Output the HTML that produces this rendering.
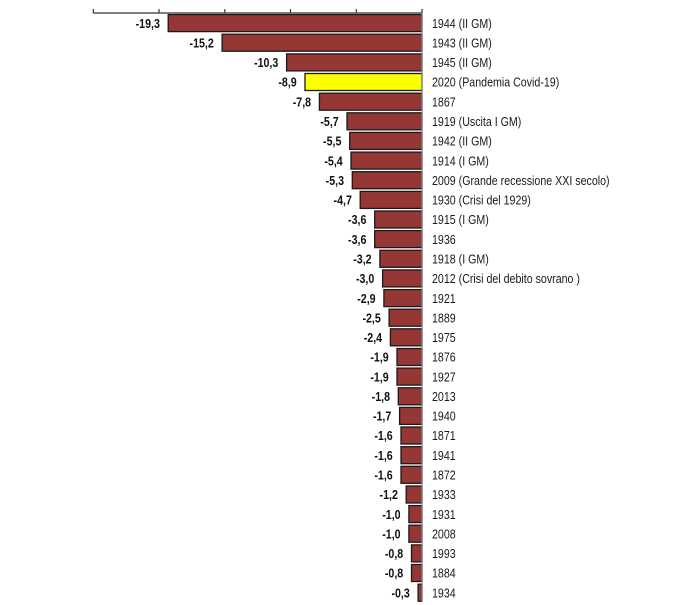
<!DOCTYPE html>
<html><head><meta charset="utf-8"><style>
html,body{margin:0;padding:0;background:#fff;}
svg{display:block;}
.v{font-family:"Liberation Sans",Arial,sans-serif;font-size:13px;font-weight:bold;fill:#111;}
.c{font-family:"Liberation Sans",Arial,sans-serif;font-size:13px;fill:#1a1a1a;}
.b{fill:#953735;stroke:#1a1a1a;stroke-width:1.3;}
.y{fill:#ffff00;stroke:#1a1a1a;stroke-width:1.3;}
</style></head><body>
<svg width="700" height="605" viewBox="0 0 700 605" xmlns="http://www.w3.org/2000/svg">
<line x1="93.3" y1="13" x2="422" y2="13" stroke="#333" stroke-width="1.3"/>
<g stroke="#333" stroke-width="1.2">
<line x1="93.3" y1="9" x2="93.3" y2="13"/>
<line x1="159" y1="9" x2="159" y2="13"/>
<line x1="224.8" y1="9" x2="224.8" y2="13"/>
<line x1="290.5" y1="9" x2="290.5" y2="13"/>
<line x1="356.3" y1="9" x2="356.3" y2="13"/>
<line x1="422" y1="9" x2="422" y2="13"/>
</g>
<rect class="b" x="168.2" y="14.6" width="253.8" height="17"/>
<rect class="b" x="222.1" y="34.2" width="199.9" height="17"/>
<rect class="b" x="286.6" y="53.9" width="135.4" height="17"/>
<rect class="y" x="305.0" y="73.5" width="117.0" height="17"/>
<rect class="b" x="319.4" y="93.2" width="102.6" height="17"/>
<rect class="b" x="347.0" y="112.8" width="75.0" height="17"/>
<rect class="b" x="349.7" y="132.4" width="72.3" height="17"/>
<rect class="b" x="351.0" y="152.1" width="71.0" height="17"/>
<rect class="b" x="352.3" y="171.7" width="69.7" height="17"/>
<rect class="b" x="360.2" y="191.4" width="61.8" height="17"/>
<rect class="b" x="374.7" y="211.0" width="47.3" height="17"/>
<rect class="b" x="374.7" y="230.6" width="47.3" height="17"/>
<rect class="b" x="379.9" y="250.3" width="42.1" height="17"/>
<rect class="b" x="382.6" y="269.9" width="39.4" height="17"/>
<rect class="b" x="383.9" y="289.6" width="38.1" height="17"/>
<rect class="b" x="389.1" y="309.2" width="32.9" height="17"/>
<rect class="b" x="390.4" y="328.8" width="31.6" height="17"/>
<rect class="b" x="397.0" y="348.5" width="25.0" height="17"/>
<rect class="b" x="397.0" y="368.1" width="25.0" height="17"/>
<rect class="b" x="398.3" y="387.8" width="23.7" height="17"/>
<rect class="b" x="399.6" y="407.4" width="22.4" height="17"/>
<rect class="b" x="401.0" y="427.0" width="21.0" height="17"/>
<rect class="b" x="401.0" y="446.7" width="21.0" height="17"/>
<rect class="b" x="401.0" y="466.3" width="21.0" height="17"/>
<rect class="b" x="406.2" y="486.0" width="15.8" height="17"/>
<rect class="b" x="408.9" y="505.6" width="13.1" height="17"/>
<rect class="b" x="408.9" y="525.2" width="13.1" height="17"/>
<rect class="b" x="411.5" y="544.9" width="10.5" height="17"/>
<rect class="b" x="411.5" y="564.5" width="10.5" height="17"/>
<rect class="b" x="418.1" y="584.2" width="3.9" height="17"/>
<line x1="422" y1="13" x2="422" y2="602" stroke="#8a8a8a" stroke-width="1.2"/>
<g class="v" text-anchor="end">
<text transform="translate(159.9,27.8) scale(0.82,1)">-19,3</text>
<text transform="translate(213.8,47.4) scale(0.82,1)">-15,2</text>
<text transform="translate(278.3,67.1) scale(0.82,1)">-10,3</text>
<text transform="translate(296.7,86.7) scale(0.82,1)">-8,9</text>
<text transform="translate(311.1,106.4) scale(0.82,1)">-7,8</text>
<text transform="translate(338.7,126.0) scale(0.82,1)">-5,7</text>
<text transform="translate(341.4,145.6) scale(0.82,1)">-5,5</text>
<text transform="translate(342.7,165.3) scale(0.82,1)">-5,4</text>
<text transform="translate(344.0,184.9) scale(0.82,1)">-5,3</text>
<text transform="translate(351.9,204.6) scale(0.82,1)">-4,7</text>
<text transform="translate(366.4,224.2) scale(0.82,1)">-3,6</text>
<text transform="translate(366.4,243.8) scale(0.82,1)">-3,6</text>
<text transform="translate(371.6,263.5) scale(0.82,1)">-3,2</text>
<text transform="translate(374.3,283.1) scale(0.82,1)">-3,0</text>
<text transform="translate(375.6,302.8) scale(0.82,1)">-2,9</text>
<text transform="translate(380.8,322.4) scale(0.82,1)">-2,5</text>
<text transform="translate(382.1,342.0) scale(0.82,1)">-2,4</text>
<text transform="translate(388.7,361.7) scale(0.82,1)">-1,9</text>
<text transform="translate(388.7,381.3) scale(0.82,1)">-1,9</text>
<text transform="translate(390.0,401.0) scale(0.82,1)">-1,8</text>
<text transform="translate(391.3,420.6) scale(0.82,1)">-1,7</text>
<text transform="translate(392.7,440.2) scale(0.82,1)">-1,6</text>
<text transform="translate(392.7,459.9) scale(0.82,1)">-1,6</text>
<text transform="translate(392.7,479.5) scale(0.82,1)">-1,6</text>
<text transform="translate(397.9,499.2) scale(0.82,1)">-1,2</text>
<text transform="translate(400.6,518.8) scale(0.82,1)">-1,0</text>
<text transform="translate(400.6,538.4) scale(0.82,1)">-1,0</text>
<text transform="translate(403.2,558.1) scale(0.82,1)">-0,8</text>
<text transform="translate(403.2,577.7) scale(0.82,1)">-0,8</text>
<text transform="translate(409.8,597.4) scale(0.82,1)">-0,3</text>
</g>
<g class="c">
<text transform="translate(432,27.8) scale(0.82,1)">1944 (II GM)</text>
<text transform="translate(432,47.4) scale(0.82,1)">1943 (II GM)</text>
<text transform="translate(432,67.1) scale(0.82,1)">1945 (II GM)</text>
<text transform="translate(432,86.7) scale(0.82,1)">2020 (Pandemia Covid-19)</text>
<text transform="translate(432,106.4) scale(0.82,1)">1867</text>
<text transform="translate(432,126.0) scale(0.82,1)">1919 (Uscita I GM)</text>
<text transform="translate(432,145.6) scale(0.82,1)">1942 (II GM)</text>
<text transform="translate(432,165.3) scale(0.82,1)">1914 (I GM)</text>
<text transform="translate(432,184.9) scale(0.82,1)">2009 (Grande recessione XXI secolo)</text>
<text transform="translate(432,204.6) scale(0.82,1)">1930 (Crisi del 1929)</text>
<text transform="translate(432,224.2) scale(0.82,1)">1915 (I GM)</text>
<text transform="translate(432,243.8) scale(0.82,1)">1936</text>
<text transform="translate(432,263.5) scale(0.82,1)">1918 (I GM)</text>
<text transform="translate(432,283.1) scale(0.82,1)">2012 (Crisi del debito sovrano )</text>
<text transform="translate(432,302.8) scale(0.82,1)">1921</text>
<text transform="translate(432,322.4) scale(0.82,1)">1889</text>
<text transform="translate(432,342.0) scale(0.82,1)">1975</text>
<text transform="translate(432,361.7) scale(0.82,1)">1876</text>
<text transform="translate(432,381.3) scale(0.82,1)">1927</text>
<text transform="translate(432,401.0) scale(0.82,1)">2013</text>
<text transform="translate(432,420.6) scale(0.82,1)">1940</text>
<text transform="translate(432,440.2) scale(0.82,1)">1871</text>
<text transform="translate(432,459.9) scale(0.82,1)">1941</text>
<text transform="translate(432,479.5) scale(0.82,1)">1872</text>
<text transform="translate(432,499.2) scale(0.82,1)">1933</text>
<text transform="translate(432,518.8) scale(0.82,1)">1931</text>
<text transform="translate(432,538.4) scale(0.82,1)">2008</text>
<text transform="translate(432,558.1) scale(0.82,1)">1993</text>
<text transform="translate(432,577.7) scale(0.82,1)">1884</text>
<text transform="translate(432,597.4) scale(0.82,1)">1934</text>
</g>
</svg>
</body></html>
